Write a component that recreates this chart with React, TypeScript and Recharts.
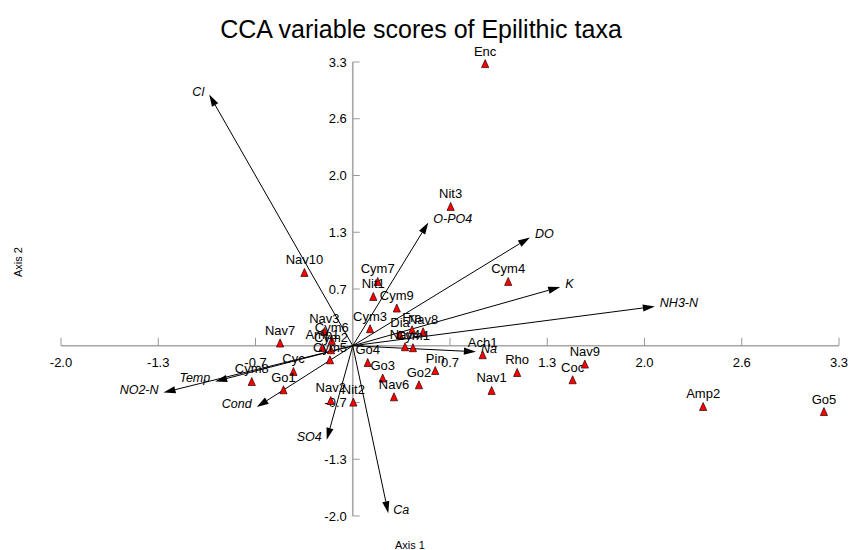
import React from 'react';
import { ScatterChart, Scatter, XAxis, YAxis, ReferenceLine } from 'recharts';

// Species (taxa) scores
const speciesNames = [
  'Enc', 'Nit3', 'Nav10', 'Cym7', 'Nit1', 'Cym9', 'Cym3', 'Dia', 'Fra', 'Nav8',
  'Nav4', 'Cym1', 'Cym4', 'Go4', 'Go3', 'Pin', 'Go2', 'Nav6', 'Ach1', 'Nav1',
  'Rho', 'Coc', 'Nav9', 'Amp2', 'Go5', 'Nav7', 'Nav3', 'Cym6', 'Amp1', 'Cym2',
  'Cym5', 'Cym8', 'Cyc', 'Go1', 'Nav2', 'Nit2',
];
const speciesAxis1 = [
  0.902, 0.667, -0.329, 0.170, 0.140, 0.300, 0.118, 0.322, 0.404, 0.479,
  0.356, 0.410, 1.059, 0.102, 0.204, 0.562, 0.451, 0.281, 0.885, 0.946,
  1.120, 1.498, 1.581, 2.387, 3.210, -0.495, -0.193, -0.143, -0.207, -0.148,
  -0.155, -0.688, -0.404, -0.472, -0.150, 0.004,
];
const speciesAxis2 = [
  3.294, 1.627, 0.856, 0.751, 0.576, 0.440, 0.199, 0.128, 0.187, 0.164,
  -0.012, -0.023, 0.751, -0.195, -0.377, -0.289, -0.456, -0.596, -0.105, -0.522,
  -0.312, -0.397, -0.214, -0.709, -0.768, 0.032, 0.167, 0.062, -0.020, -0.047,
  -0.164, -0.417, -0.300, -0.514, -0.639, -0.658,
];

// Environmental variable vectors
const envNames = ['Cl', 'O-PO4', 'DO', 'K', 'NH3-N', 'Na', 'Ca', 'SO4', 'Cond', 'NO2-N', 'Temp'];
const envAxis1 = [-0.978, 0.515, 1.207, 1.413, 2.058, 0.839, 0.242, -0.177, -0.654, -1.289, -0.937];
const envAxis2 = [2.932, 1.440, 1.265, 0.686, 0.459, -0.070, -1.954, -1.098, -0.716, -0.546, -0.417];

// Axis ticks (both axes share the same scale)
const axisMin = -1.9875;
const axisMax = 3.3125;
const tickValues = [-1.9875, -1.325, -0.6625, 0.6625, 1.325, 1.9875, 2.65, 3.3125];
const tickLabels = ['-2.0', '-1.3', '-0.7', '0.7', '1.3', '2.0', '2.6', '3.3'];

const title = 'CCA variable scores of Epilithic taxa';
const xTitle = 'Axis 1';
const yTitle = 'Axis 2';

const FONT = '"Liberation Sans", Arial, Helvetica, sans-serif';

const speciesData = speciesNames.map((name, i) => ({ name, x: speciesAxis1[i], y: speciesAxis2[i] }));
const xTickData = tickValues.map((v, i) => ({ x: v, y: 0, label: tickLabels[i] }));
const yTickData = tickValues.map((v, i) => ({ x: 0, y: v, label: tickLabels[i] }));

const SpeciesMark = (props: any) => {
  const { cx, cy, payload } = props;
  if (cx == null || cy == null) return null;
  return (
    <g>
      <polygon
        points={`${cx},${cy - 4} ${cx - 3.6},${cy + 4} ${cx + 3.6},${cy + 4}`}
        fill="#ff0000"
        stroke="#220000"
        strokeWidth={0.7}
      />
      <text x={cx} y={cy - 8} textAnchor="middle" fontSize={13} fontFamily={FONT} fill="#000">
        {payload.name}
      </text>
    </g>
  );
};

const XTickMark = (props: any) => {
  const { cx, cy, payload } = props;
  return (
    <g>
      <line x1={cx} y1={cy} x2={cx} y2={cy - 8} stroke="#999" strokeWidth={1} />
      <text x={cx} y={cy + 21.5} textAnchor="middle" fontSize={13} fontFamily={FONT} fill="#000">
        {payload.label}
      </text>
    </g>
  );
};

const YTickMark = (props: any) => {
  const { cx, cy, payload } = props;
  return (
    <g>
      <line x1={cx} y1={cy} x2={cx + 7} y2={cy} stroke="#999" strokeWidth={1} />
      <text x={cx - 6} y={cy + 4.5} textAnchor="end" fontSize={13} fontFamily={FONT} fill="#000">
        {payload.label}
      </text>
    </g>
  );
};

const makeArrow = (name: string) => (p: any) => {
  const x1 = Number(p.x1), y1 = Number(p.y1), x2 = Number(p.x2), y2 = Number(p.y2);
  const dx = x2 - x1;
  const dy = y2 - y1;
  const len = Math.hypot(dx, dy) || 1;
  const ux = dx / len;
  const uy = dy / len;
  const hl = 12;
  const hw = 3.6;
  const bx = x2 - ux * hl;
  const by = y2 - uy * hl;
  const pts = `${x2},${y2} ${bx - uy * hw},${by + ux * hw} ${bx + uy * hw},${by - ux * hw}`;
  const right = dx >= 0;
  return (
    <g>
      <line x1={x1} y1={y1} x2={bx} y2={by} stroke="#000" strokeWidth={1} />
      <polygon points={pts} fill="#000" />
      <text
        x={x2 + (right ? 5 : -5)}
        y={y2 + 1}
        textAnchor={right ? 'start' : 'end'}
        fontStyle="italic"
        fontSize={12.5}
        fontFamily={FONT}
        fill="#000"
      >
        {name}
      </text>
    </g>
  );
};

export default function App() {
  return (
    <div style={{ position: 'absolute', left: 0, top: 0, width: 851, height: 550, background: '#fff' }}>
      <ScatterChart width={851} height={550} margin={{ top: 62, right: 12, bottom: 34, left: 61 }}>
        <XAxis type="number" dataKey="x" domain={[axisMin, axisMax]} hide />
        <YAxis type="number" dataKey="y" domain={[axisMin, axisMax]} hide />
        <ReferenceLine
          segment={[{ x: axisMin, y: 0 }, { x: axisMax, y: 0 }]}
          stroke="#a6a6a6"
          strokeWidth={1.3}
          ifOverflow="visible"
        />
        <ReferenceLine
          segment={[{ x: 0, y: axisMin }, { x: 0, y: axisMax }]}
          stroke="#a6a6a6"
          strokeWidth={1.6}
          ifOverflow="visible"
        />
        <Scatter data={xTickData} shape={<XTickMark />} isAnimationActive={false} />
        <Scatter data={yTickData} shape={<YTickMark />} isAnimationActive={false} />
        <Scatter data={speciesData} shape={<SpeciesMark />} isAnimationActive={false} />
        {envNames.map((name, i) => (
          <ReferenceLine
            key={name}
            segment={[{ x: 0, y: 0 }, { x: envAxis1[i], y: envAxis2[i] }]}
            ifOverflow="visible"
            shape={makeArrow(name)}
          />
        ))}
      </ScatterChart>
      <div
        style={{
          position: 'absolute', left: 421, top: 29, transform: 'translate(-50%, -50%)',
          fontFamily: FONT, fontSize: 25, whiteSpace: 'nowrap', color: '#000',
        }}
      >
        {title}
      </div>
      <div
        style={{
          position: 'absolute', left: 410, top: 545, transform: 'translate(-50%, -50%)',
          fontFamily: FONT, fontSize: 11, whiteSpace: 'nowrap', color: '#000',
        }}
      >
        {xTitle}
      </div>
      <div
        style={{
          position: 'absolute', left: 18, top: 262, transform: 'translate(-50%, -50%) rotate(-90deg)',
          fontFamily: FONT, fontSize: 11, whiteSpace: 'nowrap', color: '#000',
        }}
      >
        {yTitle}
      </div>
    </div>
  );
}
